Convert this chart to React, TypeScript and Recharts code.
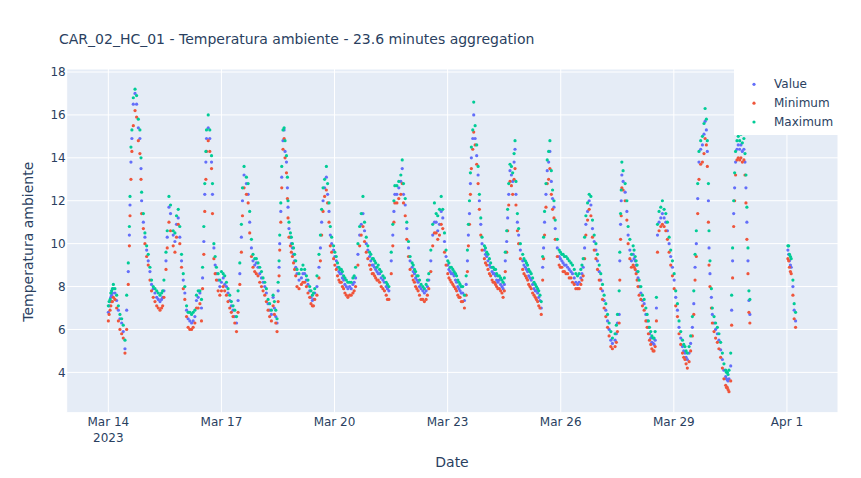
import { ScatterChart, Scatter, XAxis, YAxis, CartesianGrid } from "recharts";

// hours since Mar 14 2023 00:00, one entry per aggregated sample
const hours = [
  0, 1.1, 2.1, 3.2, 4.2, 5.3, 6.4, 7.4, 8.5, 9.5, 10.6, 11.7, 12.7, 13.4, 13.8, 14.4, 15.0, 15.9, 17.0, 18.0, 19.1, 20.1, 20.8, 21.2, 22.3, 23.3,
  24.4, 25.4, 26.5, 27.5, 29.7, 31.8, 33.9, 35.4, 36.7, 37.5, 38.6, 39.6, 41.3, 42.4, 43.4, 44.5, 45.5, 46.6, 47.7,
  48.7, 49.8, 50.8, 53.0, 55.1, 56.1, 58.3, 59.3, 60.0, 60.8, 61.4, 62.1, 62.5, 63.6, 64.6, 65.7, 66.3, 67.2, 68.0, 68.8, 71.0,
  73.1, 75.2, 77.3, 79.4, 81.6, 82.6, 83.7, 84.7, 85.4, 86.4, 87.9, 89.0, 90.0, 91.1, 92.1, 95.3,
  97.5, 99.6, 100.6, 101.7, 103.8, 104.9, 106.6, 107.4, 108.1, 108.7, 109.1, 109.8, 110.4, 111.2, 111.9, 112.5, 113.4, 114.0, 114.4, 115.0, 115.9, 117.2, 118.6,
  120.1, 121.4, 122.9, 125.0, 126.1, 128.2, 129.9, 131.4, 132.8, 134.1, 135.0, 135.8, 136.7, 137.7, 138.8, 139.6, 140.5, 141.3, 142.2, 143.4,
  145.1, 146.8, 148.3, 149.8, 151.5, 153.6, 155.7, 157.4, 158.9, 160.0, 161.0, 162.1, 163.1, 164.2, 165.2, 166.3, 168.0,
  169.5, 171.0, 172.7, 174.8, 176.9, 178.6, 180.1, 181.1, 181.8, 182.4, 183.7, 184.9, 186.2, 187.1, 187.9, 189.0, 190.0, 191.1,
  192.1, 193.4, 194.9, 196.4, 198.1, 200.2, 202.3, 204.0, 205.3, 206.5, 207.6, 208.7, 209.7, 210.8, 211.9, 212.9, 214.0, 215.0,
  216.1, 217.6, 219.3, 221.0, 222.5, 223.9, 225.6, 226.7, 227.8, 228.6, 229.2, 229.9, 230.5, 231.1, 232.0, 232.6, 233.5, 234.5, 235.4, 236.2, 237.1, 237.9, 239.4,
  240.9, 242.6, 244.3, 245.8, 247.2, 248.9, 250.6, 252.1, 252.7, 253.6, 254.2, 254.9, 255.7, 256.6, 257.4, 258.3, 258.9, 259.5, 260.4, 261.2, 262.3,
  263.8, 265.5, 266.9, 268.4, 270.1, 271.8, 273.3, 274.8, 275.6, 276.5, 277.1, 277.7, 278.6, 279.4, 280.3, 281.1, 282.0, 282.8, 283.7, 284.5, 285.8, 287.0,
  288.7, 290.4, 292.4, 294.5, 296.6, 298.7, 300.8, 302.3, 303.2, 304.0, 305.1, 306.1, 307.2, 308.2, 309.3, 310.4, 311.4,
  312.5, 313.5, 314.6, 315.6, 316.7, 317.8, 318.8, 319.9, 320.9, 322.6, 324.1, 325.2, 325.6, 326.1, 326.5, 326.9, 327.7, 329.0, 330.1, 330.9, 332.0, 333.0, 334.1, 335.4,
  336.6, 337.9, 339.0, 340.0, 341.1, 342.2, 343.8, 345.3, 346.8, 348.1, 348.9, 349.6, 350.6, 351.7, 352.7, 353.8, 354.9, 355.9, 357.0, 358.0, 359.1,
  360.2, 361.2, 362.3, 363.3, 364.4, 365.5, 367.1, 368.6, 369.7, 370.7, 371.8, 372.7, 373.5, 374.3, 375.2, 376.0, 377.1, 378.2, 379.2, 379.9, 380.7, 381.3, 382.0, 382.4, 383.0, 383.9,
  384.5, 385.6, 386.6, 387.7, 388.7, 389.8, 390.9, 391.9, 393.0, 394.0, 395.1, 396.2, 396.8, 397.4, 398.1, 398.7, 399.3, 400.2, 401.0, 401.9, 402.7, 403.6, 404.6, 405.3, 405.9, 406.5, 407.2, 407.8, 408.4,
  432.6, 433.6, 434.7, 435.8, 436.6, 437.5,
];

const value = [
  6.8, 7.3, 7.6, 7.9, 7.7, 7.35, 6.9, 6.5, 6.3, 5.9, 5.1, 6.9, 8.7, 10.4, 11.8, 13.8, 14.9, 16.5, 17.0, 16.5, 15.4, 14.9, 13.5, 12.0, 11.0, 10.3,
  9.7, 9.2, 8.7, 8.1, 7.7, 7.4, 7.4, 7.8, 9.2, 10.3, 11.7, 11.4, 10.4, 10.1, 10.9, 11.2, 10.3, 9.2, 8.3,
  7.7, 6.9, 6.5, 6.3, 6.6, 7.35, 7.7, 7.0, 8.4, 10.1, 12.3, 13.8, 14.9, 15.4, 14.9, 13.8, 12.3, 9.8, 9.0, 8.6, 8.0,
  8.4, 8.0, 7.35, 6.9, 6.3, 7.35, 8.6, 10.3, 12.0, 13.2, 12.8, 12.3, 11.0, 9.8, 9.2, 8.9,
  8.4, 8.0, 7.7, 7.2, 6.7, 7.5, 6.6, 6.3, 7.8, 8.9, 10.0, 11.5, 13.1, 14.8, 15.3, 14.3, 13.8, 12.6, 11.7, 10.7, 10.3, 9.8, 9.2,
  8.6, 8.3, 8.4, 8.6, 8.3, 7.8, 7.35, 7.7, 8.0, 8.9, 9.8, 11.0, 12.0, 12.6, 13.1, 12.3, 11.5, 10.4, 10.0, 9.7,
  9.2, 8.7, 8.6, 8.3, 8.0, 8.0, 8.1, 8.4, 9.5, 10.4, 10.9, 11.4, 10.6, 10.0, 9.7, 9.4, 9.0,
  8.9, 8.7, 8.6, 8.3, 8.0, 7.8, 9.2, 10.4, 11.5, 12.3, 12.3, 12.6, 12.9, 13.5, 12.3, 11.8, 10.7, 9.8,
  9.2, 8.9, 8.6, 8.3, 8.0, 7.8, 7.8, 8.3, 9.2, 10.4, 11.0, 11.0, 10.6, 10.9, 11.5, 11.2, 10.1, 9.4,
  9.0, 8.7, 8.6, 8.3, 8.0, 7.8, 7.7, 7.35, 8.1, 9.2, 10.4, 11.4, 12.8, 14.0, 14.9, 16.0, 14.9, 14.1, 13.2, 12.0, 10.9, 10.0, 9.7,
  9.4, 9.0, 8.7, 8.6, 8.3, 8.3, 8.0, 8.1, 9.2, 10.1, 11.2, 12.3, 13.4, 13.2, 12.9, 13.8, 14.4, 12.3, 11.0, 10.4, 9.7,
  9.2, 8.9, 8.7, 8.4, 8.1, 7.8, 7.7, 7.35, 7.0, 8.9, 9.8, 11.0, 12.3, 13.4, 13.8, 14.3, 12.9, 12.1, 11.7, 10.7, 9.8, 9.4,
  9.2, 9.0, 8.9, 8.7, 8.4, 8.1, 8.4, 8.9, 9.8, 10.9, 11.5, 12.0, 11.8, 10.7, 10.1, 9.7, 9.2,
  8.7, 8.3, 7.8, 7.35, 6.9, 6.4, 6.0, 5.5, 5.35, 5.5, 6.3, 6.7, 9.2, 10.9, 12.0, 13.2, 12.9, 12.4, 11.5, 10.4, 9.7, 9.2, 9.5, 9.2,
  8.7, 8.0, 7.7, 7.35, 7.2, 6.7, 6.1, 5.6, 5.35, 5.5, 7.0, 10.4, 11.0, 11.2, 11.4, 11.2, 11.0, 10.6, 10.0, 9.4, 8.9,
  8.3, 7.5, 6.9, 6.1, 5.6, 5.2, 4.9, 4.6, 4.9, 5.35, 6.1, 7.2, 8.9, 10.0, 12.1, 13.8, 14.4, 14.6, 15.1, 15.7, 15.3, 14.3, 12.0, 9.8, 8.6, 7.5,
  6.7, 6.3, 6.0, 5.8, 5.5, 5.05, 4.6, 4.1, 3.8, 3.65, 3.7, 4.3, 6.9, 9.2, 11.4, 12.6, 13.8, 14.4, 14.6, 14.4, 14.6, 14.3, 14.4, 13.8, 12.6, 11.0, 9.2, 7.35, 6.7,
  9.7, 9.2, 8.9, 8.0, 6.9, 6.4,
];

const minimum = [
  6.4, 6.9, 7.3, 7.5, 7.4, 7.0, 6.4, 6.0, 5.8, 5.6, 4.9, 6.0, 8.1, 9.9, 11.3, 13.0, 14.3, 15.5, 16.2, 15.9, 14.8, 14.2, 13.0, 11.4, 10.7, 10.0,
  9.4, 9.0, 8.3, 7.8, 7.3, 7.0, 7.0, 7.5, 8.8, 9.8, 11.0, 10.6, 9.9, 9.6, 10.3, 10.9, 10.0, 8.9, 7.9,
  7.4, 6.6, 6.1, 6.0, 6.3, 7.0, 7.2, 6.4, 7.9, 9.5, 11.5, 13.0, 14.3, 14.8, 14.3, 13.5, 11.4, 9.3, 8.6, 8.3, 7.6,
  8.0, 7.6, 7.0, 6.6, 5.9, 6.8, 8.1, 9.6, 11.3, 12.6, 12.3, 11.9, 10.5, 9.4, 8.9, 8.5,
  8.0, 7.6, 7.3, 6.9, 6.4, 7.1, 6.3, 5.9, 7.3, 8.5, 9.7, 11.0, 12.6, 14.4, 14.9, 14.0, 13.3, 12.1, 11.2, 10.3, 9.9, 9.4, 8.8,
  8.0, 7.9, 8.1, 8.2, 8.0, 7.5, 7.1, 7.4, 7.6, 8.4, 9.2, 10.4, 11.5, 12.2, 12.5, 11.9, 11.0, 9.9, 9.6, 9.3,
  8.8, 8.3, 8.2, 7.9, 7.6, 7.6, 7.7, 8.0, 9.0, 9.9, 10.4, 10.8, 10.1, 9.6, 9.3, 9.0, 8.6,
  8.5, 8.3, 8.2, 7.9, 7.6, 7.4, 8.6, 9.9, 11.0, 11.9, 11.9, 12.1, 12.3, 12.8, 11.9, 11.3, 10.2, 9.4,
  8.8, 8.5, 8.2, 7.9, 7.6, 7.4, 7.4, 7.9, 8.7, 9.9, 10.5, 10.5, 10.2, 10.4, 10.9, 10.7, 9.6, 9.0,
  8.6, 8.3, 8.1, 7.9, 7.6, 7.5, 7.3, 7.0, 7.6, 8.7, 9.9, 10.9, 12.3, 13.5, 14.4, 15.2, 14.6, 13.7, 12.8, 11.6, 10.4, 9.7, 9.3,
  9.0, 8.6, 8.3, 8.2, 8.0, 7.9, 7.7, 7.8, 8.7, 9.6, 10.6, 11.8, 12.9, 12.7, 12.3, 13.0, 13.5, 11.8, 10.6, 10.0, 9.3,
  8.8, 8.5, 8.3, 8.0, 7.7, 7.5, 7.3, 7.0, 6.7, 8.3, 9.3, 10.4, 11.7, 12.8, 13.0, 13.5, 12.3, 11.6, 11.2, 10.2, 9.4, 9.0,
  8.9, 8.7, 8.6, 8.4, 8.1, 7.9, 8.1, 8.5, 9.3, 10.4, 11.1, 11.6, 11.3, 10.3, 9.7, 9.3, 8.8,
  8.3, 7.9, 7.4, 7.0, 6.6, 6.1, 5.7, 5.2, 5.1, 5.2, 5.9, 6.3, 8.3, 10.2, 11.3, 12.6, 12.5, 12.0, 11.1, 10.0, 9.3, 8.9, 9.0, 8.8,
  8.3, 7.6, 7.4, 7.1, 6.9, 6.4, 5.8, 5.3, 5.0, 5.2, 6.4, 9.6, 10.6, 10.8, 10.9, 10.8, 10.6, 10.2, 9.6, 9.0, 8.5,
  7.9, 7.1, 6.6, 5.8, 5.3, 4.9, 4.6, 4.2, 4.5, 5.0, 5.7, 6.7, 8.3, 9.4, 11.4, 13.0, 13.7, 13.8, 14.2, 14.9, 14.6, 13.6, 11.0, 9.0, 8.0, 7.0,
  6.3, 5.9, 5.6, 5.4, 5.1, 4.7, 4.2, 3.7, 3.4, 3.3, 3.1, 3.6, 6.2, 8.4, 10.8, 12.0, 13.2, 13.9, 14.0, 13.9, 14.0, 13.8, 13.9, 13.2, 11.9, 10.2, 8.6, 6.8, 6.3,
  9.3, 8.9, 8.6, 7.6, 6.5, 6.1,
];

const maximum = [
  7.1, 7.4, 7.8, 8.1, 7.9, 7.6, 7.1, 6.7, 6.5, 6.2, 5.5, 7.6, 9.1, 10.8, 12.2, 14.5, 15.3, 16.8, 17.2, 16.9, 15.8, 15.3, 14.0, 12.4, 11.4, 10.5,
  9.9, 9.5, 8.9, 8.3, 7.9, 7.7, 7.7, 8.3, 9.6, 10.6, 12.2, 11.8, 10.6, 10.5, 11.3, 11.6, 10.8, 9.5, 8.6,
  8.0, 7.1, 6.8, 6.7, 6.9, 7.6, 7.8, 7.4, 8.9, 10.8, 12.8, 14.3, 15.3, 16.0, 15.3, 14.1, 12.8, 10.0, 9.4, 8.9, 8.3,
  8.6, 8.2, 7.6, 7.1, 6.6, 7.8, 9.1, 10.9, 12.6, 13.6, 13.1, 12.8, 11.5, 10.2, 9.5, 9.1,
  8.7, 8.2, 7.9, 7.4, 6.9, 7.6, 6.9, 6.5, 8.2, 9.2, 10.4, 11.9, 13.6, 15.3, 15.4, 14.8, 14.1, 13.1, 12.0, 11.0, 10.5, 10.0, 9.5,
  8.8, 8.6, 8.8, 8.8, 8.5, 8.0, 7.6, 7.9, 8.5, 9.5, 10.4, 11.6, 12.6, 13.0, 13.6, 12.8, 11.9, 10.8, 10.3, 9.9,
  9.4, 8.9, 8.8, 8.5, 8.3, 8.2, 8.4, 8.9, 10.0, 10.8, 11.4, 12.2, 11.0, 10.3, 9.9, 9.6, 9.3,
  9.2, 8.9, 8.8, 8.5, 8.2, 8.0, 9.6, 10.9, 12.0, 12.7, 12.7, 12.9, 13.2, 13.9, 12.8, 12.1, 11.0, 10.1,
  9.4, 9.1, 8.8, 8.5, 8.3, 8.0, 8.1, 8.6, 9.7, 10.9, 11.9, 11.4, 11.3, 11.6, 12.2, 11.6, 10.5, 9.7,
  9.2, 8.9, 8.8, 8.6, 8.3, 8.1, 8.0, 7.6, 8.5, 9.7, 10.9, 12.0, 13.3, 14.5, 15.3, 16.6, 15.5, 14.6, 13.6, 12.3, 11.2, 10.3, 9.9,
  9.6, 9.3, 8.9, 8.8, 8.6, 8.5, 8.3, 8.4, 9.6, 10.6, 11.6, 12.8, 13.7, 13.6, 13.3, 14.2, 14.8, 12.9, 11.4, 10.7, 10.0,
  9.5, 9.2, 9.0, 8.7, 8.4, 8.1, 7.9, 7.6, 7.3, 9.4, 10.3, 11.5, 12.8, 13.9, 14.3, 14.8, 13.4, 12.5, 12.0, 11.1, 10.2, 9.7,
  9.5, 9.4, 9.3, 9.1, 8.8, 8.5, 8.8, 9.3, 10.3, 11.3, 11.9, 12.3, 12.2, 11.1, 10.4, 10.0, 9.5,
  9.0, 8.6, 8.1, 7.6, 7.2, 6.7, 6.3, 5.9, 5.6, 5.8, 6.7, 7.8, 9.6, 11.4, 12.5, 13.8, 13.4, 12.8, 12.0, 10.8, 10.2, 9.5, 9.9, 9.4,
  9.0, 8.3, 8.0, 7.6, 7.4, 7.0, 6.4, 5.9, 5.6, 5.9, 7.5, 10.9, 11.5, 11.7, 12.0, 11.6, 11.4, 11.0, 10.3, 9.7, 9.2,
  8.6, 7.8, 7.2, 6.4, 5.9, 5.5, 5.2, 4.9, 5.2, 5.7, 6.6, 7.8, 9.5, 10.6, 12.8, 14.3, 14.8, 15.0, 15.6, 16.3, 15.8, 14.8, 12.8, 10.6, 9.2, 7.9,
  7.0, 6.6, 6.3, 6.1, 5.8, 5.4, 4.9, 4.4, 4.1, 4.0, 4.1, 4.9, 7.6, 9.8, 12.0, 13.3, 14.3, 14.8, 15.0, 14.8, 15.1, 14.7, 14.9, 14.2, 13.2, 11.7, 9.8, 7.8, 7.4,
  9.9, 9.5, 9.3, 8.3, 7.2, 6.8,
];

// further samples read from the slow night-time stretches
const hoursNight = [
  0.5, 1.6, 2.6, 28.6, 30.8, 32.9, 34.6, 51.9, 54.0, 57.2,
  69.9, 72.0, 74.1, 76.2, 78.3, 80.5, 93.2, 94.2, 96.4, 98.5, 102.7, 105.7,
  116.5, 117.9, 119.3, 123.9, 127.1, 129.0, 130.6, 144.2, 145.9, 147.5, 149.0, 150.6, 152.5, 154.6, 156.5,
  167.1, 168.7, 170.2, 171.8, 173.7, 175.8, 177.7, 194.1, 195.6, 197.2, 199.1, 201.2, 203.1,
  216.8, 218.4, 220.1, 221.7, 223.2, 224.7, 240.1, 241.7, 243.4, 245.0, 246.5, 248.0, 249.7, 251.3,
  264.6, 266.2, 267.6, 269.2, 271.0, 272.5, 274.0, 287.8, 289.5, 291.4, 293.4, 295.5, 297.6, 299.7, 301.5,
  323.4, 334.7, 336.0, 337.2, 343.0, 344.5, 346.0, 347.4, 366.3, 367.8, 393.5, 394.5, 433.1, 434.2,
];

const valueNight = [
  7.1, 7.5, 7.7, 7.9, 7.5, 7.3, 7.5, 6.4, 6.4, 7.5,
  8.3, 8.2, 8.1, 7.7, 7.1, 6.6, 9.0, 9.1, 8.6, 8.2, 6.9, 7.0,
  10.0, 9.5, 8.9, 8.6, 8.1, 7.5, 7.4, 9.4, 8.9, 8.6, 8.4, 8.1, 7.9, 7.9, 8.2,
  9.2, 9.0, 8.8, 8.6, 8.4, 8.2, 7.9, 8.7, 8.4, 8.2, 7.9, 7.7, 8.0,
  8.8, 8.6, 8.5, 8.2, 7.9, 7.7, 9.5, 9.2, 8.9, 8.6, 8.5, 8.2, 8.1, 7.9,
  9.0, 8.8, 8.5, 8.3, 7.9, 7.8, 7.5, 9.3, 9.1, 9.0, 8.8, 8.6, 8.2, 8.2, 8.6,
  5.8, 9.3, 9.0, 8.4, 6.4, 5.8, 5.4, 5.3, 5.0, 4.7, 3.7, 3.6, 9.5, 9.0,
];

const minimumNight = [
  6.7, 7.1, 7.3, 7.5, 7.1, 6.9, 7.1, 6.0, 6.1, 7.0,
  7.8, 7.8, 7.8, 7.3, 6.8, 6.3, 8.7, 8.6, 8.2, 7.8, 6.6, 6.7,
  9.6, 9.1, 8.5, 8.2, 7.7, 7.2, 7.1, 9.0, 8.5, 8.2, 8.0, 7.7, 7.5, 7.6, 7.8,
  8.8, 8.6, 8.4, 8.3, 8.0, 7.8, 7.4, 8.3, 8.0, 7.8, 7.4, 7.3, 7.6,
  8.4, 8.2, 8.0, 7.8, 7.5, 7.3, 9.1, 8.8, 8.5, 8.2, 8.1, 7.9, 7.8, 7.5,
  8.6, 8.4, 8.1, 7.9, 7.6, 7.4, 7.1, 8.9, 8.7, 8.6, 8.4, 8.2, 7.9, 7.9, 8.3,
  5.4, 8.9, 8.6, 8.0, 6.1, 5.5, 5.1, 5.0, 4.7, 4.4, 3.3, 3.2, 9.2, 8.7,
];

const maximumNight = [
  7.3, 7.7, 7.9, 8.0, 7.8, 7.6, 7.8, 6.8, 6.8, 7.8,
  8.6, 8.7, 8.5, 7.9, 7.3, 6.9, 9.3, 9.3, 8.9, 8.4, 7.2, 7.3,
  10.3, 9.8, 9.2, 9.0, 8.3, 7.8, 7.7, 9.6, 9.1, 8.8, 8.7, 8.4, 8.2, 8.2, 8.5,
  9.5, 9.3, 9.1, 9.0, 8.7, 8.4, 8.1, 9.0, 8.7, 8.5, 8.1, 7.9, 8.3,
  9.1, 8.9, 8.7, 8.5, 8.2, 8.0, 9.8, 9.5, 9.1, 8.9, 8.8, 8.5, 8.4, 8.2,
  9.3, 9.1, 8.8, 8.6, 8.2, 8.0, 7.8, 9.6, 9.5, 9.4, 9.2, 9.0, 8.6, 8.6, 9.0,
  6.2, 9.7, 9.2, 8.7, 6.7, 6.1, 5.7, 5.6, 5.3, 5.0, 4.0, 3.9, 9.9, 9.4,
];

const xTickHours = [0, 72, 144, 216, 288, 360, 432];
const xTickLabels = ["Mar 14", "Mar 17", "Mar 20", "Mar 23", "Mar 26", "Mar 29", "Apr 1"];
const yTicks = [4, 6, 8, 10, 12, 14, 16, 18];

const seriesNames = ["Value", "Minimum", "Maximum"];
const seriesColors = ["#636efa", "#ef553b", "#00cc96"];

const FONT = "'DejaVu Sans', Verdana, sans-serif";
const INK = "#2a3f5f";

const allHours = [...hours, ...hoursNight];
const toPoints = (ys: number[]) => allHours.map((t, i) => ({ t, y: ys[i] }));
const seriesData = [
  toPoints([...value, ...valueNight]),
  toPoints([...minimum, ...minimumNight]),
  toPoints([...maximum, ...maximumNight]),
];

const dot = (color: string) => (p: any) => <circle cx={p.cx} cy={p.cy} r={1.6} fill={color} />;

function DateTick({ x, y, payload }: any) {
  const i = xTickHours.indexOf(payload.value);
  return (
    <text x={x} y={y} textAnchor="middle" fill={INK} fontSize={12} fontFamily={FONT}>
      <tspan x={x} dy={13.3}>{xTickLabels[i]}</tspan>
      {i === 0 && <tspan x={x} dy={15.6}>2023</tspan>}
    </text>
  );
}

function TempTick({ x, y, payload }: any) {
  return (
    <text x={x} y={y} dy={4.3} textAnchor="end" fill={INK} fontSize={12} fontFamily={FONT}>
      {payload.value}
    </text>
  );
}

export default function App() {
  return (
    <div style={{ position: "absolute", left: 0, top: 0, width: 861, height: 478, background: "#fff" }}>
      <ScatterChart width={861} height={478} margin={{ top: 69, right: 23, bottom: 0, left: 0 }}>
        <CartesianGrid fill="#E5ECF6" fillOpacity={1} stroke="#ffffff" strokeWidth={1} />
        <XAxis
          type="number"
          dataKey="t"
          domain={[-26.5, 464.5]}
          allowDataOverflow
          ticks={xTickHours}
          tick={<DateTick />}
          tickSize={0}
          tickMargin={0}
          axisLine={false}
          tickLine={false}
          height={65.3}
        />
        <YAxis
          type="number"
          dataKey="y"
          domain={[2.12, 18.14]}
          allowDataOverflow
          ticks={yTicks}
          tick={<TempTick />}
          tickSize={0}
          tickMargin={1}
          axisLine={false}
          tickLine={false}
          width={66.7}
        />
        {seriesData.map((d, i) => (
          <Scatter
            key={seriesNames[i]}
            name={seriesNames[i]}
            data={d}
            fill={seriesColors[i]}
            shape={dot(seriesColors[i])}
            isAnimationActive={false}
          />
        ))}
      </ScatterChart>
      <svg width={861} height={478} style={{ position: "absolute", left: 0, top: 0, pointerEvents: "none" }}>
        <text x={59} y={44} fill={INK} fontSize={14} fontFamily={FONT}>
          CAR_02_HC_01 - Temperatura ambiente - 23.6 minutes aggregation
        </text>
        <text x={452} y={466.5} textAnchor="middle" fill={INK} fontSize={14} fontFamily={FONT}>
          Date
        </text>
        <text
          x={0}
          y={0}
          transform="translate(32.5,241.7) rotate(-90)"
          textAnchor="middle"
          fill={INK}
          fontSize={14}
          fontFamily={FONT}
        >
          Temperatura ambiente
        </text>
        <rect x={734} y={69} width={104} height={66} fill="#ffffff" />
        {seriesNames.map((name, i) => (
          <g key={name}>
            <circle cx={754} cy={84.3 + i * 18.85} r={1.6} fill={seriesColors[i]} />
            <text x={774} y={88.3 + i * 18.85} fill={INK} fontSize={12} fontFamily={FONT}>
              {name}
            </text>
          </g>
        ))}
      </svg>
    </div>
  );
}
